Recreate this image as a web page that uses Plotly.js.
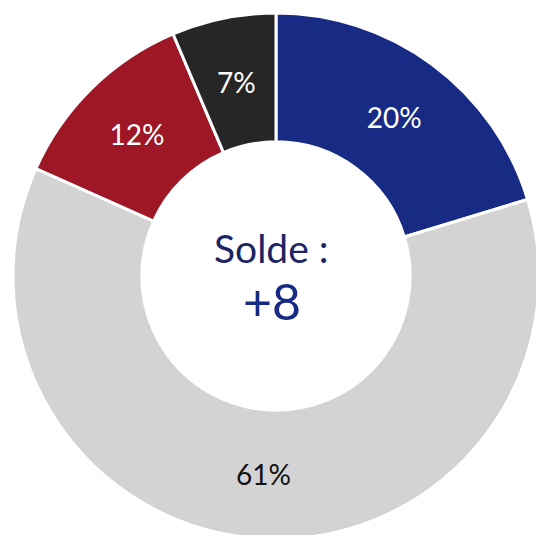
<!DOCTYPE html>
<html>
<head>
<meta charset="utf-8">
<script src="https://cdn.plot.ly/plotly-3.0.1.min.js"></script>
<style>
html,body{margin:0;padding:0;overflow:hidden;background:#fff;}
#chart{width:552px;height:552px;}
</style>
</head>
<body>
<div id="chart"></div>
<script>
var categories = ["Hausse", "Stable", "Baisse", "NSP"];
var values = [20.3, 61.4, 11.9, 6.4];
var valueLabels = ["20%", "61%", "12%", "7%"];
var sliceColors = ["#172B84", "#D3D3D3", "#9D1726", "#262626"];
var textColors = ["#FFFFFF", "#111111", "#FFFFFF", "#FFFFFF"];
var centerTitle = "Solde :";
var centerValue = "+8";

// main ring (slices, no text)
var ring = {
  type: "pie",
  labels: categories,
  values: values,
  hole: 0.51,
  sort: false,
  direction: "clockwise",
  rotation: 0,
  textinfo: "none",
  marker: {colors: sliceColors, line: {color: "#FFFFFF", width: 3}},
  hoverinfo: "none",
  showlegend: false,
  domain: {x: [0, 1], y: [0, 1]}
};

// transparent narrower ring carrying the labels, so they sit mid-ring
var labelRing = {
  type: "pie",
  labels: categories,
  values: values,
  text: valueLabels,
  hole: 0.693,
  sort: false,
  direction: "clockwise",
  rotation: 0,
  textinfo: "text",
  texttemplate: "%{text}",
  textposition: "inside",
  insidetextorientation: "horizontal",
  textfont: {family: "Lato, sans-serif", size: 28, color: textColors},
  marker: {colors: ["rgba(0,0,0,0)", "rgba(0,0,0,0)", "rgba(0,0,0,0)", "rgba(0,0,0,0)"], line: {width: 0}},
  hoverinfo: "none",
  showlegend: false,
  domain: {x: [0.0542, 0.9458], y: [0.0542, 0.9458]}
};

var layout = {
  width: 552,
  height: 552,
  margin: {l: 13, r: 13, t: 13, b: 13, pad: 0},
  paper_bgcolor: "#FFFFFF",
  showlegend: false,
  annotations: [
    {text: centerTitle, x: 0.492, y: 0.553, xref: "paper", yref: "paper", showarrow: false,
     font: {family: "Lato, sans-serif", size: 39, color: "#1B2563"}},
    {text: centerValue, x: 0.492, y: 0.452, xref: "paper", yref: "paper", showarrow: false,
     font: {family: "Lato, sans-serif", size: 50, color: "#172B84"}}
  ]
};

Plotly.newPlot("chart", [ring, labelRing], layout, {staticPlot: true, displayModeBar: false});
</script>
</body>
</html>
